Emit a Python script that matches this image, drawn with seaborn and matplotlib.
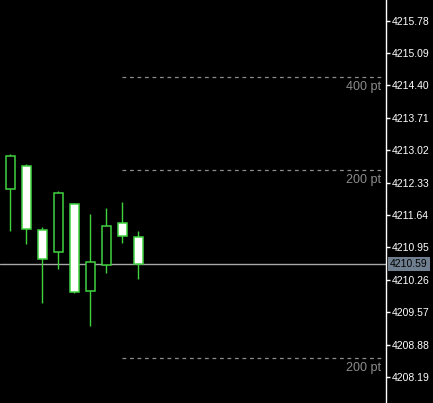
import matplotlib
matplotlib.use("Agg")
import matplotlib.pyplot as plt
import seaborn as sns
import numpy as np
import pandas as pd

# candle data
opens = [4212.19, 4212.69, 4211.33, 4210.86, 4211.88, 4210.02, 4210.58, 4211.48, 4211.18]
closes = [4212.90, 4211.35, 4210.71, 4212.11, 4210.00, 4210.63, 4211.41, 4211.19, 4210.59]
highs = [4212.94, 4212.73, 4211.39, 4212.16, 4211.90, 4211.67, 4211.78, 4211.91, 4211.29]
lows = [4211.31, 4211.02, 4209.77, 4210.49, 4209.98, 4209.28, 4210.41, 4211.04, 4210.28]

price_ticks = [4215.78, 4215.09, 4214.40, 4213.71, 4213.02, 4212.33,
               4211.64, 4210.95, 4210.26, 4209.57, 4208.88, 4208.19]
current_price = 4210.59
level_prices = [4214.59, 4212.59, 4208.59]
level_labels = ["400 pt", "200 pt", "200 pt"]

sns.set_theme(style="dark")
plt.rcParams['font.family'] = ['Liberation Sans', 'DejaVu Sans']

df = pd.DataFrame({"open": opens, "close": closes, "high": highs, "low": lows})
df["x"] = np.arange(len(df))
df["bull"] = df["close"] >= df["open"]

fig = plt.figure(figsize=(4.33, 4.03), dpi=100, facecolor="black")
ax = fig.add_axes([0, 0, 386 / 433, 1])
ax.set_facecolor("black")

green = "#3fd23f"

# wicks
ax.vlines(df["x"], df["low"], df["high"], color=green, linewidth=1, zorder=2)

# bodies
bottoms = df[["open", "close"]].min(axis=1)
heights = (df["close"] - df["open"]).abs()
faces = ["black" if b else "white" for b in df["bull"]]
ax.bar(df["x"], heights, bottom=bottoms, width=0.6, color=faces,
       edgecolor=green, linewidth=1.1, zorder=3)

# current price line
ax.axhline(current_price, color="#a8a8a8", linewidth=1, zorder=1)

# point levels
for p, lab in zip(level_prices, level_labels):
    ax.axhline(p, xmin=122 / 386, xmax=383 / 386, color="#8c8c8c",
               linewidth=0.9, linestyle=(0, (3, 3)), zorder=1)
    ax.annotate(lab, xy=(381 / 386, p), xycoords=("axes fraction", "data"),
                xytext=(0, -10), textcoords="offset pixels",
                ha="right", va="center", color="#8c8c8c", fontsize=9)

ax.set_xlim(-0.656, 23.47)
ax.set_ylim(4207.636, 4216.221)

ax.yaxis.tick_right()
ax.set_yticks(price_ticks)
ax.set_yticklabels([f"{t:.2f}" for t in price_ticks])
ax.tick_params(axis="y", colors="white", labelcolor="white", labelsize=7.5,
               length=3, width=1, pad=1, right=True, left=False)
ax.set_xticks([])
ax.grid(False)

for s in ["top", "bottom", "left"]:
    ax.spines[s].set_visible(False)
ax.spines["right"].set_color("white")
ax.spines["right"].set_linewidth(1)

# current price tag
ax.annotate(f"{current_price:.2f}", xy=(1, current_price),
            xycoords=("axes fraction", "data"), xytext=(4, 0),
            textcoords="offset pixels", ha="left", va="center",
            fontsize=7.5, color="black",
            bbox=dict(boxstyle="square,pad=0.2", facecolor="#6f7f8f",
                      edgecolor="none"), zorder=5, annotation_clip=False)

fig.savefig("out.png", dpi=100, facecolor="black")
